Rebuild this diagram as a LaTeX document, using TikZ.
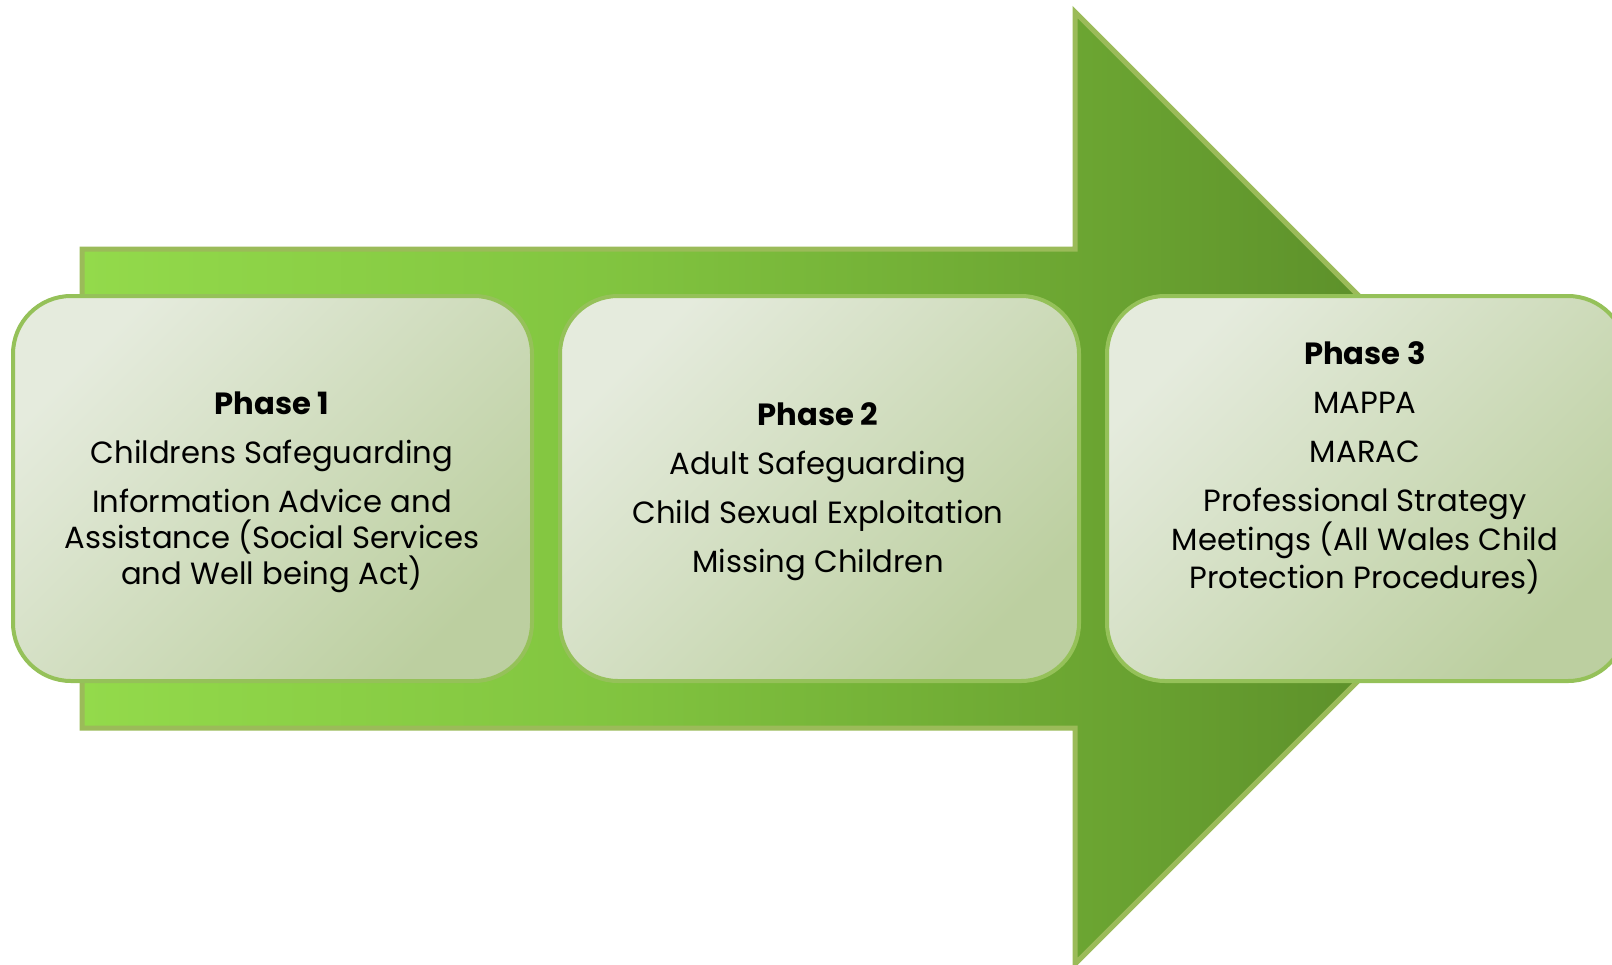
\documentclass[tikz,border=0pt]{standalone}
\usepackage{fontspec}
\setmainfont{Poppins}
\definecolor{boxline}{HTML}{95C159}
\definecolor{arrline}{HTML}{9BBB59}
\definecolor{boxlight}{HTML}{E5EBDD}
\definecolor{boxdark}{HTML}{BCCFA0}
\definecolor{ga}{HTML}{93DA4B}
\definecolor{gb}{HTML}{82C540}
\definecolor{gc}{HTML}{6CA632}
\definecolor{gd}{HTML}{5E922B}
\definecolor{ge}{HTML}{558628}
\pgfdeclarehorizontalshading{arrowshade}{100bp}{color(0bp)=(ga); color(25bp)=(ga); color(42.6bp)=(gb); color(58.7bp)=(gc); color(68bp)=(gd); color(75bp)=(ge); color(100bp)=(ge)}
\begin{document}
\begin{tikzpicture}[x=0.75pt,y=-0.75pt,
  phasebox/.style={draw=boxline, line width=3pt, rounded corners=43.5pt,
    top color=boxlight, bottom color=boxdark, shading angle=45,
    minimum width=389.25pt, minimum height=288.75pt, inner sep=0pt},
  phasetext/.style={align=center, font=\fontsize{23pt}{27pt}\selectfont, text=black, inner sep=0pt}]
\useasboundingbox (0,0) rectangle (1612,964);
\clip (0,0) rectangle (1612,964);
\fill[white] (0,0) rectangle (1612,964);
% arrow
\shadedraw[shading=arrowshade, draw=arrline, line width=3.75pt, line join=miter]
  (82,249) -- (1075,249) -- (1075,12) -- (1551,488) -- (1075,964) -- (1075,728) -- (82,728) -- cycle;
% boxes
\node[phasebox] (b1) at (272.5,488.5) {};
\node[phasebox] (b2) at (819.5,488.5) {};
\node[phasebox] (b3) at (1366.5,488.5) {};
% texts
\node[phasetext] (t1) at (272,492) {\textbf{Phase 1}\\[9.75pt]Childrens Safeguarding\\[9.75pt]Information Advice and\\Assistance (Social Services\\and Well being Act)};
\node[phasetext] (t2) at (818,491.5) {\textbf{Phase 2}\\[9.75pt]Adult Safeguarding\\[9.75pt]Child Sexual Exploitation\\[9.75pt]Missing Children};
\node[phasetext] (t3) at (1365,468) {\textbf{Phase 3}\\[9.75pt]MAPPA\\[9.75pt]MARAC\\[9.75pt]Professional Strategy\\Meetings (All Wales Child\\Protection Procedures)};
\end{tikzpicture}
\end{document}
